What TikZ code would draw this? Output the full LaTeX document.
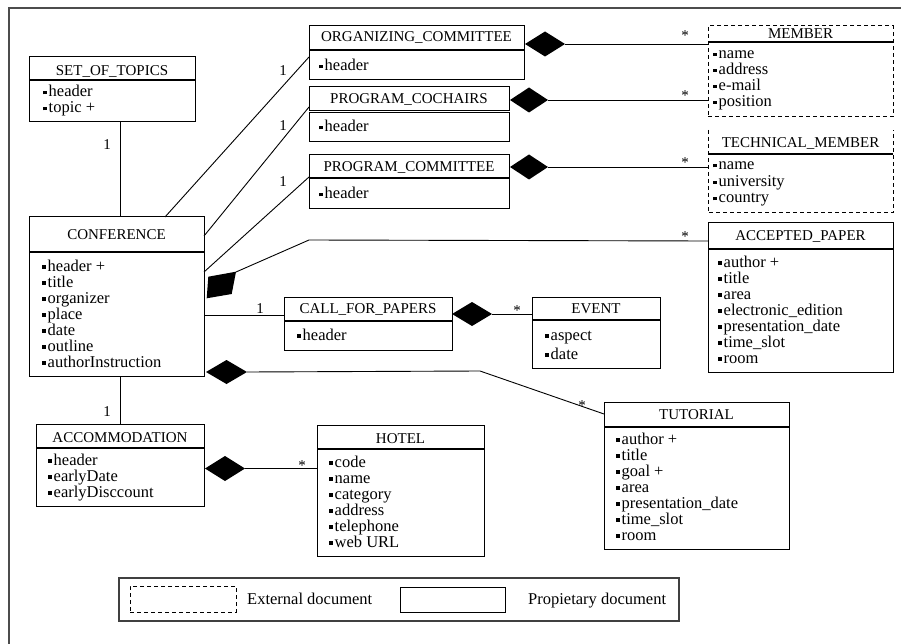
\documentclass[tikz,border=0pt]{standalone}
\usepackage{fontspec}
\setmainfont{Liberation Serif}
\usetikzlibrary{shapes.geometric}

% small square bullet in front of each attribute
\newcommand\sqbullet{\rule[2.5pt]{3.3pt}{3.3pt}\hspace{2.2pt}}
% attribute lines of a class: name, x, first baseline, line step, list
\newcommand\attrlist[5]{%
  \foreach \a [count=\i] in {#5} {%
    \node[attrtext, anchor=base west] (#1-a\i) at (#2,{#3+(\i-1)*#4}) {\sqbullet\a};}}

\tikzset{
  classbox/.style={draw=black, line width=1pt, inner sep=0pt, outer sep=0pt, anchor=north west},
  extclass/.style={classbox, dash pattern=on 4pt off 3pt},
  extline/.style={line width=1pt, dash pattern=on 4pt off 3pt},
  divider/.style={line width=2pt},
  titletext/.style={font=\fontsize{15}{16}\selectfont, inner sep=0pt, anchor=base},
  attrtext/.style={font=\fontsize{16.5}{16}\selectfont, inner sep=0pt},
  mult/.style={font=\fontsize{15}{16}\selectfont, inner sep=0pt, anchor=base},
  link/.style={line width=0.9pt},
  comp/.style={diamond, fill=black, draw=none, inner sep=0pt, outer sep=0pt,
               minimum width=40pt, minimum height=25pt},
  frameline/.style={line width=1.6pt, draw=black!70},
}

\begin{document}
\begin{tikzpicture}[x=1pt, y=-1pt]
\useasboundingbox (0,0) rectangle (901,644);

% page frame
\draw[frameline] (9,644) -- (9,8) -- (901,8);

% ---------- SET_OF_TOPICS ----------
\node[classbox, minimum width=166pt, minimum height=65pt] (topics) at (29,57) {};
\draw[divider] (topics.west |- 0,80) -- (topics.east |- 0,80);
\node[titletext] (topics-title) at (topics.north |- 0,76) {SET\_OF\_TOPICS};
\attrlist{topics}{43}{97}{16}{header, topic +}

% ---------- CONFERENCE ----------
\node[classbox, minimum width=175pt, minimum height=159pt] (conf) at (29,217) {};
\draw[divider] (conf.west |- 0,252) -- (conf.east |- 0,252);
\node[titletext] (conf-title) at (conf.north |- 0,239.5) {CONFERENCE};
\attrlist{conf}{42}{271}{16}{header +, title, organizer, place, date, outline, authorInstruction}

% ---------- ORGANIZING_COMMITTEE ----------
\node[classbox, minimum width=215pt, minimum height=54pt] (org) at (309,26) {};
\draw[divider] (org.west |- 0,50) -- (org.east |- 0,50);
\node[titletext] (org-title) at (org.north |- 0,42) {ORGANIZING\_COMMITTEE};
\attrlist{org}{319}{71}{16}{header}

% ---------- PROGRAM_COCHAIRS (two separate compartments) ----------
\node[classbox, minimum width=200pt, minimum height=24pt] (coch) at (309,87) {};
\node[classbox, minimum width=200pt, minimum height=29pt] (coch-body) at (309,113) {};
\node[titletext] (coch-title) at (coch.north |- 0,103.5) {PROGRAM\_COCHAIRS};
\attrlist{coch}{319}{132}{16}{header}

% ---------- PROGRAM_COMMITTEE ----------
\node[classbox, minimum width=200pt, minimum height=54pt] (pc) at (309,155) {};
\draw[divider] (pc.west |- 0,178) -- (pc.east |- 0,178);
\node[titletext] (pc-title) at (pc.north |- 0,171.5) {PROGRAM\_COMMITTEE};
\attrlist{pc}{319}{199}{16}{header}

% ---------- MEMBER (external) ----------
\node[extclass, minimum width=185pt, minimum height=91pt] (member) at (708,26) {};
\draw[line width=1.3pt] (member.west |- 0,42) -- (member.east |- 0,42);
\node[titletext] (member-title) at (member.north |- 0,38.5) {MEMBER};
\attrlist{member}{713}{58.5}{16}{name, address, e-mail, position}

% ---------- TECHNICAL_MEMBER (external) ----------
\node[classbox, draw=none, minimum width=185pt, minimum height=83pt] (tech) at (708,130) {};
\draw[extline] (tech.north west) -- (tech.south west) -- (tech.south east) -- (tech.north east);
\draw[line width=1.3pt] (tech.west |- 0,154) -- (tech.east |- 0,154);
\node[titletext] (tech-title) at (tech.north |- 0,148) {TECHNICAL\_MEMBER};
\attrlist{tech}{713}{170}{16.5}{name, university, country}

% ---------- ACCEPTED_PAPER ----------
\node[classbox, minimum width=185pt, minimum height=149pt] (accepted) at (708,223) {};
\draw[divider] (accepted.west |- 0,249) -- (accepted.east |- 0,249);
\node[titletext] (accepted-title) at (accepted.north |- 0,240.5) {ACCEPTED\_PAPER};
\attrlist{accepted}{718}{267}{16}{author +, title, area, electronic\_edition, presentation\_date, time\_slot, room}

% ---------- CALL_FOR_PAPERS ----------
\node[classbox, minimum width=168pt, minimum height=53pt] (cfp) at (284,297) {};
\draw[divider] (cfp.west |- 0,321) -- (cfp.east |- 0,321);
\node[titletext] (cfp-title) at (cfp.north |- 0,313) {CALL\_FOR\_PAPERS};
\attrlist{cfp}{297}{340}{16}{header}

% ---------- EVENT ----------
\node[classbox, minimum width=128pt, minimum height=71pt] (event) at (532,297) {};
\draw[divider] (event.west |- 0,320) -- (event.east |- 0,320);
\node[titletext] (event-title) at (event.north |- 0,313) {EVENT};
\attrlist{event}{545}{340}{19}{aspect, date}

% ---------- TUTORIAL ----------
\node[classbox, minimum width=185pt, minimum height=147pt] (tutorial) at (604,402) {};
\draw[divider] (tutorial.west |- 0,427) -- (tutorial.east |- 0,427);
\node[titletext] (tutorial-title) at (tutorial.north |- 0,419) {TUTORIAL};
\attrlist{tutorial}{616}{444}{16}{author +, title, goal +, area, presentation\_date, time\_slot, room}

% ---------- ACCOMMODATION ----------
\node[classbox, minimum width=168pt, minimum height=82pt] (acc) at (36,424) {};
\draw[divider] (acc.west |- 0,448) -- (acc.east |- 0,448);
\node[titletext] (acc-title) at (acc.north |- 0,442) {ACCOMMODATION};
\attrlist{acc}{48}{465}{16}{header, earlyDate, earlyDisccount}

% ---------- HOTEL ----------
\node[classbox, minimum width=167pt, minimum height=131pt] (hotel) at (317,425) {};
\draw[divider] (hotel.west |- 0,449) -- (hotel.east |- 0,449);
\node[titletext] (hotel-title) at (hotel.north |- 0,443) {HOTEL};
\attrlist{hotel}{329}{467}{16}{code, name, category, address, telephone, web URL}

% ---------- plain associations ----------
\draw[link] (topics.south -| 120,0) -- (conf.north -| 120,0);
\draw[link] (conf.south -| 120,0) -- (acc.north -| 120,0);
\draw[link] (conf.north -| 165,0) -- (org.west |- 0,57);
\draw[link] (conf.east |- 0,236) -- (coch.west |- 0,107);
\draw[link] (conf.east |- 0,272) -- (pc.west |- 0,177);
\draw[link] (conf.east |- 0,315) -- (cfp.west |- 0,315);

% ---------- compositions ----------
\node[comp] (d-org) at (545,44) {};
\draw[link] (d-org.east) -- (d-org.east -| member.west);
\node[comp, minimum width=38pt, minimum height=25pt] (d-coch) at (529,100) {};
\draw[link] (d-coch.east) -- (d-coch.east -| member.west);
\node[comp, minimum width=38pt, minimum height=25pt] (d-pc) at (529,167) {};
\draw[link] (d-pc.east) -- (d-pc.east -| tech.west);

\fill (208.3,276.7) -- (236,271.7) -- (231.7,294) -- (206.7,298.3) -- cycle;
\coordinate (d-acp) at (236,272);
\coordinate (acp-bend) at (309,240);
\draw[link] (d-acp) -- (acp-bend) -- (accepted.west |- 0,241);

\node[comp, minimum height=24pt] (d-cfp) at (472,314) {};
\draw[link] (d-cfp.east) -- (d-cfp.east -| event.west);

\node[comp, minimum width=41pt, minimum height=24pt] (d-tut) at (226.5,372) {};
\coordinate (tut-bend) at (480,371);
\draw[link] (d-tut.east) -- (tut-bend) -- (tutorial.west |- 0,414);

\node[comp] (d-acc) at (225,468.5) {};
\draw[link] (d-acc.east) -- (d-acc.east -| hotel.west);

% ---------- multiplicities ----------
\node[mult] (m-topics) at (107,150) {1};
\node[mult] (m-acc) at (107,416) {1};
\node[mult] (m-org) at (283,76) {1};
\node[mult] (m-coch) at (283,131) {1};
\node[mult] (m-pc) at (283,187) {1};
\node[mult] (m-cfp) at (260,313) {1};
\node[mult] (m-member1) at (685,41) {*};
\node[mult] (m-member2) at (685,101) {*};
\node[mult] (m-tech) at (685,168) {*};
\node[mult] (m-acp) at (685,241) {*};
\node[mult] (m-event) at (517,315) {*};
\node[mult] (m-tut) at (582,410) {*};
\node[mult] (m-hotel) at (302,470) {*};

% ---------- legend ----------
\node[classbox, draw=black!75, line width=1.3pt, minimum width=560pt, minimum height=43pt] (legend) at (119,578) {};
\node[extclass, minimum width=106pt, minimum height=26pt] (leg-ext) at (130,586) {};
\node[classbox, minimum width=105pt, minimum height=25pt] (leg-prop) at (400,587) {};
\node[attrtext, anchor=base west] (leg-ext-text) at (247,604) {External document};
\node[attrtext, anchor=base west] (leg-prop-text) at (528,604) {Propietary document};
\end{tikzpicture}
\end{document}
